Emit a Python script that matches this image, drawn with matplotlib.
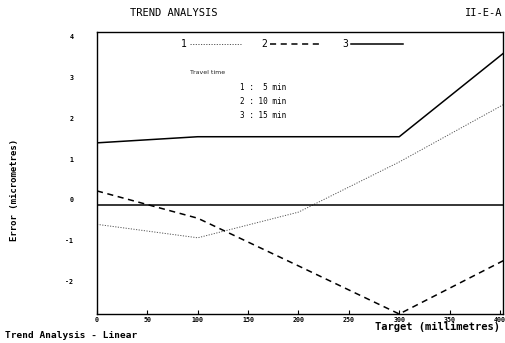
import matplotlib
matplotlib.use("Agg")
import matplotlib.pyplot as plt

# Data
target = [0, 100, 200, 300, 405]
err_5min = [-0.60, -0.93, -0.30, 0.93, 2.36]
err_10min = [0.22, -0.45, -1.62, -2.80, -1.47]
err_15min = [1.40, 1.55, 1.55, 1.55, 3.63]
reference_level = -0.12
x_ticks = [0, 50, 100, 150, 200, 250, 300, 350, 400]
y_ticks = [-2, -1, 0, 1, 2, 3, 4]
legend_labels = ["1", "2", "3"]
travel_lines = ["1 :  5 min", "2 : 10 min", "3 : 15 min"]

fig = plt.figure(figsize=(5.06, 3.43), dpi=100)
ax = fig.add_axes([97/506, 1-314/343, (503-97)/506, (314-32)/343])

l1, = ax.plot(target, err_5min, color="#555555", lw=0.7, linestyle=(0, (1.2, 1.5)))
l2, = ax.plot(target, err_10min, color="black", lw=1.1, linestyle=(0, (4, 3)))
l3, = ax.plot(target, err_15min, color="black", lw=1.1)
ax.axhline(reference_level, color="black", lw=1.1)

ax.set_xlim(0, 403)
ax.set_ylim(-2.80, 4.12)
ax.set_xticks(x_ticks)
ax.set_yticks(y_ticks)
ax.set_xticklabels([str(v) for v in x_ticks], fontsize=4.8, fontweight="bold", family="DejaVu Sans Mono")
ax.set_yticklabels([str(v) for v in y_ticks], fontsize=4.8, fontweight="bold", family="DejaVu Sans Mono")
ax.tick_params(axis="x", direction="in", length=3, width=0.8, pad=2)
ax.tick_params(axis="y", direction="in", length=0, width=0.8, pad=17)
for s in ax.spines.values():
    s.set_linewidth(1.0)

leg = ax.legend([l1, l2, l3], legend_labels, ncol=3, markerfirst=False, frameon=False,
                loc="upper left", bbox_to_anchor=(0.185, 1.005), handlelength=5.3,
                columnspacing=2.1, handletextpad=0.3,
                prop={"family": "DejaVu Sans Mono", "size": 7})

fig.text(190/506, 1-73/343, "Travel time", fontsize=4.5, family="DejaVu Sans", va="center", color="#222222")
for i, t in enumerate(travel_lines):
    fig.text(240/506, 1-(87+14.5*i)/343, t, fontsize=5.5, family="DejaVu Sans Mono", va="center")

fig.text(130/506, 1-13/343, "TREND ANALYSIS", fontsize=7.5, family="DejaVu Sans Mono", va="center")
fig.text(502/506, 1-13/343, "II-E-A", fontsize=7.5, family="DejaVu Sans Mono", va="center", ha="right")
fig.text(500/506, 1-327/343, "Target (millimetres)", fontsize=7.5, family="DejaVu Sans Mono",
         fontweight="bold", va="center", ha="right")
fig.text(5/506, 1-336/343, "Trend Analysis - Linear", fontsize=6.8, family="DejaVu Sans Mono",
         fontweight="bold", va="center", ha="left")
fig.text(15/506, 1-190/343, "Error (micrometres)", fontsize=6.5, family="DejaVu Sans Mono",
         fontweight="bold", va="center", ha="center", rotation=90)

fig.savefig("out.png", dpi=100)
